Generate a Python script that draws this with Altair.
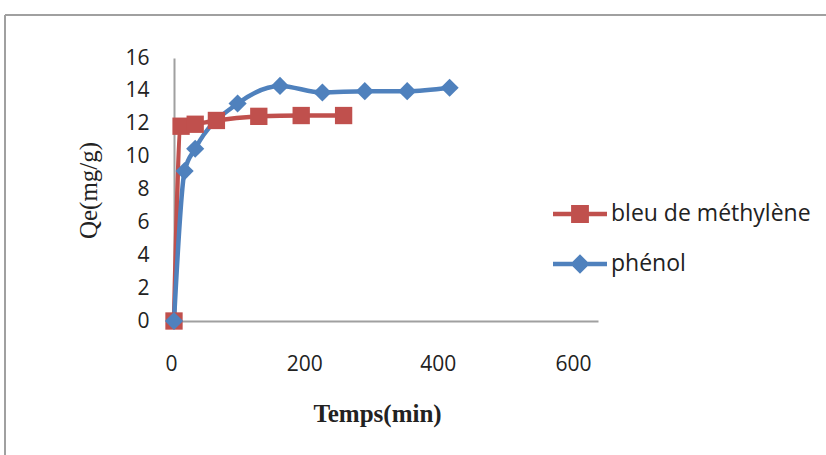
import altair as alt
import pandas as pd

# Data
mb_time = [0, 10, 30, 60, 120, 180, 240]
mb_qe = [0, 11.85, 11.97, 12.2, 12.45, 12.5, 12.5]
ph_time = [0, 15, 30, 90, 150, 210, 270, 330, 390]
ph_qe = [0, 9.12, 10.48, 13.23, 14.3, 13.9, 13.98, 13.98, 14.19]

series_names = ["bleu de méthylène", "phénol"]
colors = ["#C0504D", "#4F81BD"]
x_ticks = [0, 200, 400, 600]
y_ticks = [0, 2, 4, 6, 8, 10, 12, 14, 16]

df = pd.DataFrame(
    {"temps": mb_time, "qe": mb_qe, "serie": series_names[0]}
)
df = pd.concat(
    [df, pd.DataFrame({"temps": ph_time, "qe": ph_qe, "serie": series_names[1]})],
    ignore_index=True,
)

color_scale = alt.Scale(domain=series_names, range=colors)

x_enc = alt.X(
    "temps:Q",
    scale=alt.Scale(domain=[0, 600], nice=False),
    axis=alt.Axis(
        values=x_ticks,
        title="Temps(min)",
        titleFont="Liberation Serif",
        titleFontSize=25,
        titleFontWeight="bold",
        titleColor="#222222",
        titleX=203,
        titleY=92,
        titleBaseline="middle",
        titleAlign="center",
        labelFont="Open Sans",
        labelFontSize=21,
        labelColor="#222222",
        labelPadding=32,
        labelFlush=False,
        labelOverlap=False,
        labelOffset={
            "condition": [
                {"test": "datum.value == 0", "value": -3},
                {"test": "datum.value == 200", "value": -11},
                {"test": "datum.value == 400", "value": -19},
                {"test": "datum.value == 600", "value": -25},
            ],
            "value": 0,
        },
        ticks=False,
        grid=False,
        domainColor="#a0a0a0",
        domainWidth=2,
    ),
)
y_enc = alt.Y(
    "qe:Q",
    scale=alt.Scale(domain=[0, 16], nice=False),
    axis=alt.Axis(
        values=y_ticks,
        title="Qe(mg/g)",
        titleFont="Liberation Serif",
        titleFontSize=25,
        titleFontWeight="normal",
        titleColor="#222222",
        titleX=-86,
        titleY=132,
        titleAngle=-90,
        titleBaseline="middle",
        titleAlign="center",
        labelFont="Open Sans",
        labelFontSize=21,
        labelColor="#222222",
        labelPadding=25,
        labelOverlap=False,
        labelFlush=False,
        ticks=False,
        grid=False,
        domainColor="#a0a0a0",
        domainWidth=2,
    ),
)

base = alt.Chart(df)


def series_layers(name, color, shape, size):
    sub = base.transform_filter(alt.datum.serie == name)
    line = sub.mark_line(strokeWidth=4.5, interpolate="monotone", color=color).encode(
        x=x_enc, y=y_enc
    )
    pts = sub.mark_point(shape=shape, filled=True, size=size, opacity=1, color=color).encode(
        x=x_enc, y=y_enc
    )
    return line, pts


mb_line, mb_pts = series_layers(series_names[0], colors[0], "square", 300)
ph_line, ph_pts = series_layers(series_names[1], colors[1], "diamond", 330)

legend_paths = [
    "M-1,-0.08H1V0.08H-1Z M-0.33,-0.33H0.33V0.33H-0.33Z",
    "M-1,-0.08H1V0.08H-1Z M0,-0.36L0.36,0L0,0.36L-0.36,0Z",
]

legend_props = dict(
    title=None,
    orient="none",
    legendX=379,
    legendY=129,
    padding=0,
    symbolSize=2916,
    symbolStrokeWidth=0,
    rowPadding=11,
    labelFont="Open Sans",
    labelFontSize=23,
    labelColor="#222222",
    labelOffset=4,
    labelLimit=300,
)

legend_layer = (
    base.transform_filter("false")
    .mark_point(filled=True, opacity=1)
    .encode(
        x=x_enc,
        y=y_enc,
        color=alt.Color("serie:N", scale=color_scale, legend=alt.Legend(**legend_props)),
        shape=alt.Shape(
            "serie:N",
            scale=alt.Scale(domain=series_names, range=legend_paths),
            legend=alt.Legend(**legend_props),
        ),
    )
)

frame_data = alt.Data(values=[{"k": 1}])
frame_top = alt.Chart(frame_data).mark_rule(color="#a0a0a0", strokeWidth=2).encode(
    x=alt.value(-169), x2=alt.value(660), y=alt.value(-43)
)
frame_left = alt.Chart(frame_data).mark_rule(color="#a0a0a0", strokeWidth=2).encode(
    x=alt.value(-169), y=alt.value(-43), y2=alt.value(410)
)

chart = (
    alt.layer(mb_line, ph_line, mb_pts, ph_pts, legend_layer, frame_top, frame_left)
    .properties(
        width=424,
        height=263,
        background="white",
        autosize=alt.AutoSizeParams(type="none"),
        padding={"left": 174, "top": 58, "right": 228, "bottom": 134},
    )
    .configure_view(strokeWidth=0, stroke="transparent")
)

chart.save("out.html", embed_options={"renderer": "svg", "actions": False})
